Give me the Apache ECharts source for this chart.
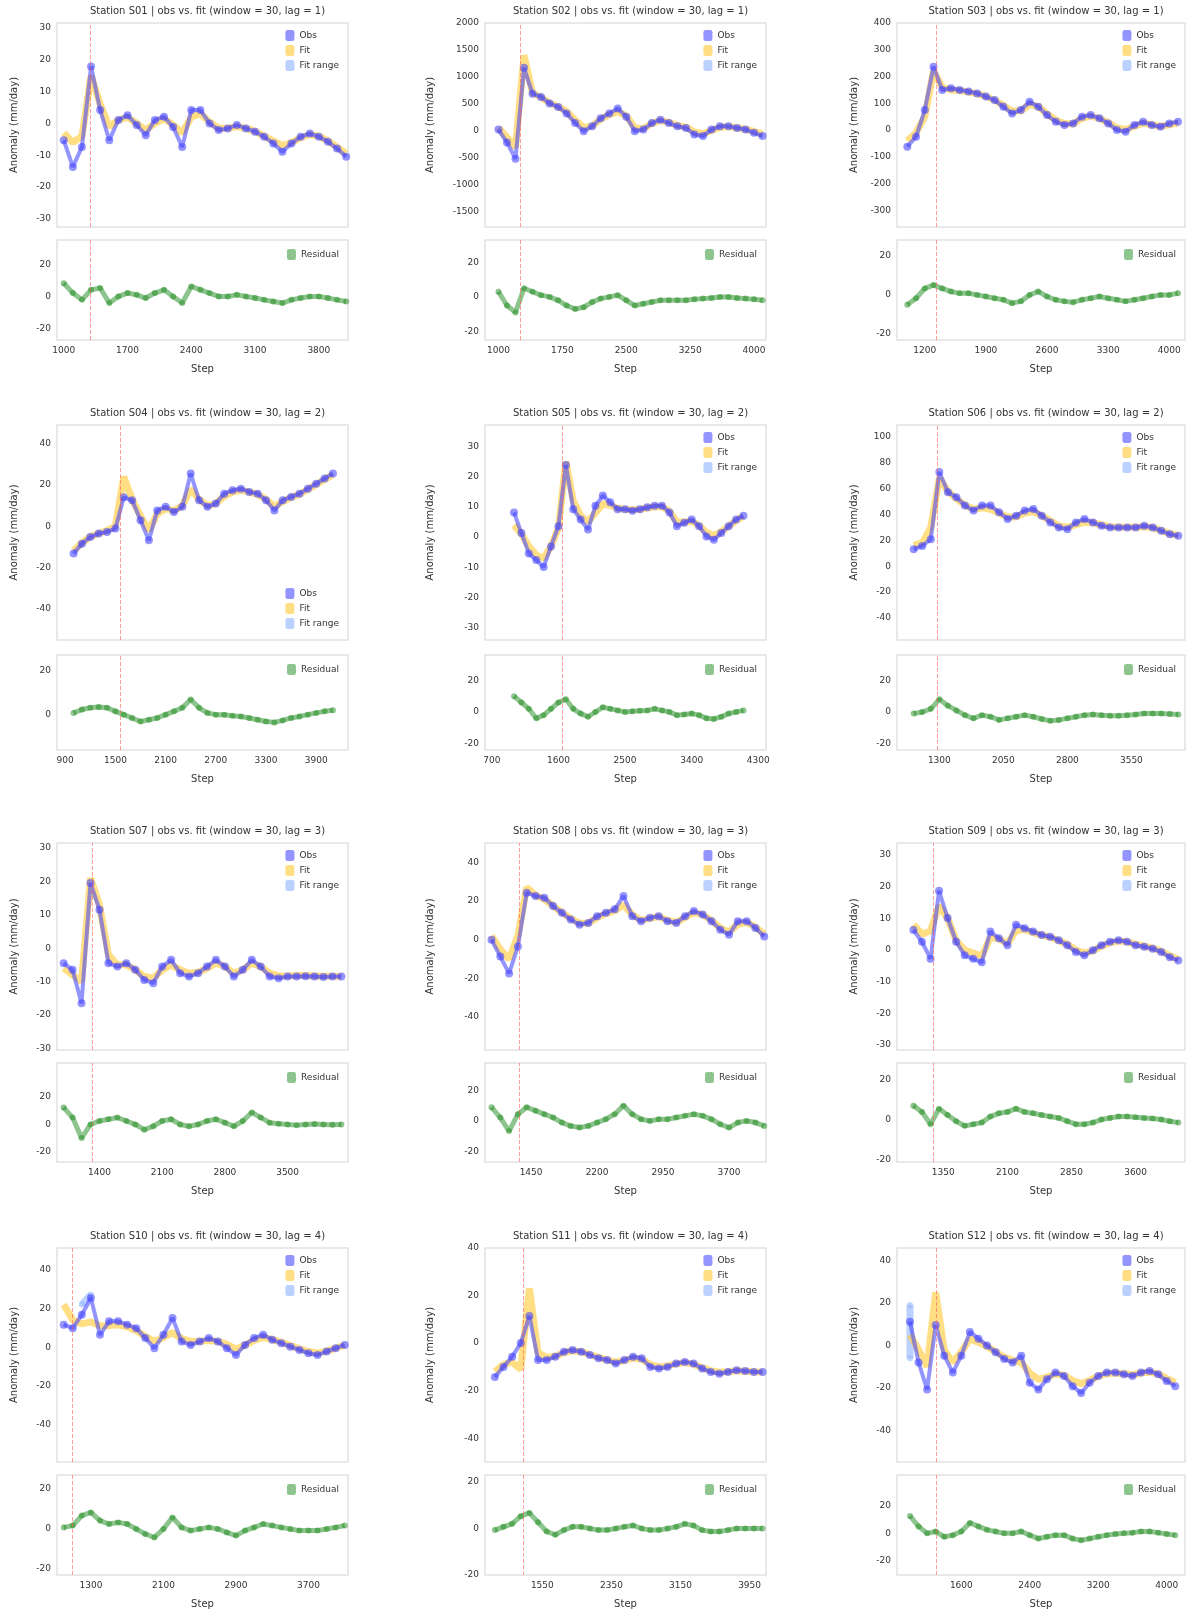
<!DOCTYPE html>
<html>
<head>
<meta charset="utf-8">
<script src="https://cdn.jsdelivr.net/npm/echarts@6/dist/echarts.min.js"></script>
<style>
html, body { margin: 0; padding: 0; background: #fff; }
#chart { width: 1200px; height: 1620px; }
</style>
</head>
<body>
<div id="chart"></div>
<script>
// shared x values (step number)
const steps = [1000, 1100, 1200, 1300, 1400, 1500, 1600, 1700, 1800, 1900, 2000, 2100, 2200, 2300, 2400, 2500,
  2600, 2700, 2800, 2900, 3000, 3100, 3200, 3300, 3400, 3500, 3600, 3700, 3800, 3900, 4000, 4100];

// observed / fitted / residual, one set per panel (reading order)
const obs1 = [-5.3, -13.7, -7.4, 17.9, 4.2, -5.3, 1.1, 2.6, -0.5, -3.7, 1.1, 2.1, -1.1, -7.4, 4.2, 4.2, 0, -2.1, -1.6, -0.5, -1.6, -2.6, -4.2, -6.3, -8.9, -6.3, -4.2, -3.2, -4.2, -5.8, -7.9, -10.5];
const fit1 = [-3, -6, -4, 15, 6, -1, 1, 2, 0, -2, 0, 1.5, -0.5, -3, 2, 3, 0.5, -1.5, -1.5, -1, -1.5, -2.5, -4, -5.5, -7, -6, -4.5, -3.5, -4, -5.5, -7.5, -9.5];
const res1 = [8.2, 2.1, -2.1, 4.1, 5.2, -4.1, 0, 2.1, 1, -1, 2.1, 4.1, 0, -4.1, 6.2, 4.1, 2.1, 0, 0, 1, 0, -1, -2.1, -3.1, -4.1, -2.1, -1, 0, 0, -1, -2.1, -3.1];

const obs2 = [25, -215, -515, 1170, 690, 630, 510, 445, 325, 145, -5, 85, 235, 325, 415, 265, -5, 25, 145, 205, 145, 85, 55, -65, -95, 25, 85, 85, 55, 25, -35, -95];
const fit2 = [60, -120, -300, 1400, 700, 620, 520, 450, 360, 200, 60, 90, 220, 300, 360, 280, 60, 40, 140, 190, 160, 100, 70, -20, -50, 10, 70, 80, 60, 30, -10, -60];
const res2 = [3, -5, -9, 5, 3, 1, 0, -2, -5, -7, -6, -3, -1, 0, 1, -2, -5, -4, -3, -2, -2, -2, -2, -1.4, -1, -0.6, 0, 0, -0.6, -1, -1.4, -2];

const obs3 = [-62, -25, 75, 237, 150, 156, 150, 144, 137, 125, 112, 87, 62, 75, 106, 87, 56, 31, 19, 25, 50, 56, 44, 25, 0, -6, 19, 31, 19, 12, 25, 31];
const fit3 = [-40, -10, 50, 220, 160, 150, 148, 142, 136, 126, 112, 92, 70, 72, 96, 88, 60, 38, 24, 24, 44, 52, 44, 28, 8, 2, 14, 26, 20, 14, 20, 26];
const res3 = [-5, -1.7, 3.3, 5, 3.3, 1.7, 0.8, 0.8, 0, -0.8, -1.7, -2.5, -4.2, -3.3, 0, 1.7, -0.8, -2.5, -3.3, -3.7, -2.5, -1.7, -0.8, -1.7, -2.5, -3.3, -2.5, -1.7, -0.8, 0, 0, 0.8];

const obs4 = [-13.2, -8.4, -5.2, -3.5, -2.7, -1.1, 14, 12.6, 2.9, -6.8, 7.7, 9.4, 6.9, 9.4, 25.5, 12.6, 9.4, 11, 15.8, 17.4, 18.2, 16.6, 15.8, 12.6, 7.7, 12.6, 14.2, 15.8, 18.2, 20.6, 23.1, 25.5];
const fit4 = [-12, -8, -5, -3.5, -2, 0, 24, 13, 5, -2, 6, 8.5, 7.5, 10, 18, 13, 10, 11, 14.5, 16.5, 17.5, 16.5, 15.5, 13, 9.5, 12, 14, 15.5, 17.8, 20.2, 22.6, 25];
const res4 = [0.8, 2.3, 3.1, 3.5, 3.1, 1.5, 0, -1.5, -3.1, -2.3, -1.5, 0, 1.5, 3.1, 6.9, 3.1, 0.8, 0, 0, -0.5, -0.8, -1.5, -2.3, -3.1, -3.5, -2.6, -1.5, -0.8, 0, 0.8, 1.5, 2];

const obs5 = [8.1, 1.3, -5.4, -7.6, -9.9, -3.1, 3.6, 23.8, 9.2, 5.8, 2.5, 10.3, 13.7, 11.5, 9.2, 9.2, 8.7, 9.2, 9.8, 10.3, 10.3, 8.1, 3.6, 4.7, 5.8, 3.6, 0.2, -0.9, 1.3, 3.6, 5.8, 7];
const fit5 = [4, 1, -3, -6, -7, -3, 3, 25, 12, 7, 5, 8, 11, 10.5, 9.5, 9.2, 9, 9.2, 9.6, 10, 10, 8.5, 5, 5, 5.2, 3.8, 1.5, 0.5, 1.8, 3.6, 5.5, 6.8];
const res5 = [10, 6, 2, -4, -2, 2, 6, 8, 2, -1, -3, 0, 3, 2, 1, 0, 0.4, 0.8, 1, 2, 1, 0, -2, -1.6, -1, -2, -4, -4.4, -3, -1, 0, 1];

const obs6 = [13, 15.6, 20.8, 72.7, 57.1, 53.2, 46.8, 42.9, 46.8, 46.8, 41.6, 36.4, 39, 42.9, 44.2, 39, 33.8, 29.9, 28.6, 33.8, 36.4, 33.8, 31.2, 29.9, 29.9, 29.9, 29.9, 31.2, 29.9, 27.3, 24.7, 23.4];
const fit6 = [16, 18, 30, 68, 58, 52, 47, 44, 45, 44, 41, 38, 38, 41, 42, 39, 35, 31, 30, 32, 34, 33.5, 32, 30.5, 30, 30, 30, 30.5, 29.8, 27.5, 25, 23.8];
const res6 = [-1, 0, 2, 8, 4, 1, -2, -4, -2, -3, -5, -4, -3, -2, -3, -4.4, -5.6, -5, -4, -3, -2, -1.6, -2, -2.4, -2.4, -2, -1.6, -1, -1, -1, -1.2, -1.6];

const obs7 = [-4.5, -6.5, -16.5, 19.5, 11.5, -4.5, -5.5, -4.5, -6.5, -9.5, -10.5, -5.5, -3.5, -7.5, -8.5, -7.5, -5.5, -3.5, -5.5, -8.5, -6.5, -3.5, -5.5, -8.5, -9, -8.5, -8.5, -8.4, -8.5, -8.6, -8.5, -8.5];
const fit7 = [-6, -8, -10, 21, 13, -2, -5, -5, -6.5, -8.5, -9, -6.5, -5, -6.5, -7.5, -7.2, -6, -4.5, -5.5, -7.5, -6.5, -4.5, -5.5, -7.5, -8.3, -8.3, -8.2, -8.2, -8.3, -8.4, -8.4, -8.5];
const res7 = [12.5, 5, -10, 0, 2.5, 3.8, 5, 2.5, 0, -3.8, -1.3, 2.5, 3.8, 0, -1.3, 0, 2.5, 3.8, 1.3, -1.3, 2.5, 8.8, 5, 1.3, 0.5, 0, -0.5, 0, 0.3, 0, -0.3, 0];

const obs8 = [0, -8.7, -17.4, -3.5, 24.3, 22.6, 21.7, 17.4, 13.9, 10.4, 7.8, 8.7, 12.2, 13.9, 15.7, 22.6, 12.2, 9.6, 11.3, 12.2, 9.6, 8.7, 12.2, 14.8, 13, 9.6, 5.2, 2.6, 9.6, 9.6, 6.1, 1.7];
const fit8 = [2, -5, -10, 2, 27, 23, 21, 17.5, 14, 11, 8.5, 8.5, 11.5, 13.5, 15, 18, 13, 10, 11, 12, 10, 9, 11.5, 14, 13, 10, 6, 4, 8, 9, 6.5, 3];
const res8 = [8.9, 2.2, -6.7, 4.4, 8.9, 6.7, 4.4, 2.2, -1.1, -3.3, -4.4, -3.3, -1.1, 1.1, 4.4, 10, 4.4, 1.1, 0, 1.1, 1.1, 2.2, 3.3, 4.4, 3.3, 1.1, -2.2, -4.4, -1.1, 0, -1.1, -3.3];

const obs9 = [6.3, 2.6, -2.8, 18.7, 10.1, 2.6, -1.7, -2.8, -3.9, 5.8, 3.7, 1.5, 8, 6.9, 5.8, 4.7, 4.2, 3.1, 1.5, -0.6, -1.7, -0.1, 1.5, 2.6, 3.1, 2.6, 1.5, 1, 0.4, -0.6, -2.3, -3.3];
const fit9 = [8, 5, 6, 14, 10, 3, 0, -1, -2, 4, 3.5, 2, 6, 6.5, 5.5, 4.8, 4, 3, 1.8, 0, -1, -0.3, 1.2, 2.3, 2.8, 2.6, 1.8, 1.2, 0.6, -0.4, -1.8, -3];
const res9 = [6.9, 3.8, -2.3, 5.4, 2.3, -0.8, -3.1, -2.3, -1.5, 1.5, 3.1, 3.8, 5.4, 3.8, 3.1, 2.3, 1.5, 0.8, -0.8, -2.3, -2.3, -1.5, 0, 0.8, 1.5, 1.5, 1.1, 0.8, 0.5, 0, -0.8, -1.5];

const obs10 = [11.6, 9.8, 16.7, 25.3, 6.4, 13.3, 13.3, 11.6, 9.8, 4.7, -0.5, 6.4, 15, 2.9, 1.2, 2.9, 4.7, 2.9, -0.5, -4, 1.2, 4.7, 6.4, 3.8, 2.1, 0.3, -1.4, -3.1, -4, -2.2, -0.5, 1.2];
const fit10 = [22, 14, 12, 13, 11, 11, 11.5, 10.5, 8.5, 5.5, 3, 5, 7.5, 4.5, 3, 3, 3.5, 3, 1.5, -1, 1, 3.5, 5, 4, 2.5, 0.8, -0.8, -2.2, -3, -2, -0.5, 1];
const res10 = [0.8, 1.7, 6.7, 8.3, 4.2, 2.5, 3.3, 2.5, 0, -2.5, -4.2, 0, 5.8, 0.8, -0.8, 0, 0.8, 0, -1.7, -3.3, -0.8, 0.8, 2.5, 1.7, 0.8, 0, -0.8, -0.8, -0.8, 0, 0.8, 1.7];

const obs11 = [-14.3, -10, -5.7, 0, 11.4, -7.1, -7.1, -5.7, -3.6, -2.9, -3.6, -5, -6.4, -7.1, -8.6, -7.1, -5.7, -6.4, -10, -10.7, -10, -8.6, -7.9, -8.6, -10.7, -12.1, -12.9, -12.1, -11.4, -11.7, -12.1, -12.1];
const fit11 = [-12, -9, -8, -11, 23, -4, -6, -5.5, -4, -3.2, -3.6, -4.8, -6, -7, -8, -7.3, -6.3, -6.8, -9, -10, -9.6, -8.7, -8.2, -8.8, -10.4, -11.6, -12.3, -12, -11.6, -11.8, -12, -12.2];
const res11 = [-0.7, 0.7, 2, 5.3, 6.7, 2.7, -1.3, -2.7, -0.7, 0.7, 0.7, 0, -0.7, -0.7, 0, 0.7, 1.3, 0, -0.7, -0.7, 0, 0.7, 2, 1.3, -0.7, -1.3, -1.3, -0.7, 0, 0, 0, 0];

const obs12 = [11.2, -8, -20.8, 9.6, -4.8, -12.8, -4.8, 6.4, 3.2, 0, -3.2, -6.4, -8, -4.8, -17.6, -20.8, -16, -12.8, -14.4, -19.2, -22.4, -17.6, -14.4, -12.8, -12.8, -13.6, -14.4, -12.8, -12, -13.6, -16.8, -19.2];
const fit12 = [5, -2, -10, 25, -2, -8, -3, 3, 1.5, -0.5, -3, -5.5, -7, -8, -13, -16, -15, -13.5, -14, -16.5, -18, -16.5, -14.5, -13.3, -13, -13.3, -13.8, -13, -12.6, -13.4, -15.5, -17.5];
const res12 = [12.5, 5, 0, 1.3, -2.5, -1.3, 1.3, 7.5, 5, 2.5, 1.3, 0, 0, 1.3, -1.3, -3.8, -2.5, -1.3, -1.3, -3.8, -5, -3.8, -2.5, -1.3, -0.5, 0, 0.5, 1.3, 1.3, 0.5, -0.5, -1.3];

// fit range: only a few points visible (index into steps, value)
const rangeIdx10 = [2, 3];
const rangeVal10 = [22, 27];
const rangeIdx12 = [0, 0];
const rangeVal12 = [19, -6];

const obsAll = [obs1, obs2, obs3, obs4, obs5, obs6, obs7, obs8, obs9, obs10, obs11, obs12];
const fitAll = [fit1, fit2, fit3, fit4, fit5, fit6, fit7, fit8, fit9, fit10, fit11, fit12];
const resAll = [res1, res2, res3, res4, res5, res6, res7, res8, res9, res10, res11, res12];
const rangeIdxAll = [[], [], [], [], [], [], [], [], [], rangeIdx10, [], rangeIdx12];
const rangeValAll = [[], [], [], [], [], [], [], [], [], rangeVal10, [], rangeVal12];

const titles = [
  "Station S01 | obs vs. fit (window = 30, lag = 1)",
  "Station S02 | obs vs. fit (window = 30, lag = 1)",
  "Station S03 | obs vs. fit (window = 30, lag = 1)",
  "Station S04 | obs vs. fit (window = 30, lag = 2)",
  "Station S05 | obs vs. fit (window = 30, lag = 2)",
  "Station S06 | obs vs. fit (window = 30, lag = 2)",
  "Station S07 | obs vs. fit (window = 30, lag = 3)",
  "Station S08 | obs vs. fit (window = 30, lag = 3)",
  "Station S09 | obs vs. fit (window = 30, lag = 3)",
  "Station S10 | obs vs. fit (window = 30, lag = 4)",
  "Station S11 | obs vs. fit (window = 30, lag = 4)",
  "Station S12 | obs vs. fit (window = 30, lag = 4)"
];

const breakX = [1290, 1260, 1330, 1560, 1656, 1276, 1318, 1312, 1234, 1092, 1326, 1306];
const xMins = [926, 842, 882, 802, 608, 804, 926, 926, 808, 926, 886, 848];
const xMaxs = [4120, 4140, 4180, 4280, 4404, 4178, 4174, 4120, 4178, 4136, 4140, 4214];
const xTicks = [
  [1000, 1700, 2400, 3100, 3800], [1000, 1750, 2500, 3250, 4000], [1200, 1900, 2600, 3300, 4000],
  [900, 1500, 2100, 2700, 3300, 3900], [700, 1600, 2500, 3400, 4300], [1300, 2050, 2800, 3550],
  [1400, 2100, 2800, 3500], [1450, 2200, 2950, 3700], [1350, 2100, 2850, 3600],
  [1300, 2100, 2900, 3700], [1550, 2350, 3150, 3950], [1600, 2400, 3200, 4000]
];
const yMins = [-32.6, -1780, -362, -55, -34, -57, -30.5, -57, -31.6, -59, -50, -55];
const yMaxs = [31.6, 2000, 400, 49, 37, 109, 31.5, 50, 33.8, 51, 40, 46];
const yTicks = [
  [-30, -20, -10, 0, 10, 20, 30], [-1500, -1000, -500, 0, 500, 1000, 1500, 2000], [-300, -200, -100, 0, 100, 200, 300, 400],
  [-40, -20, 0, 20, 40], [-30, -20, -10, 0, 10, 20, 30], [-40, -20, 0, 20, 40, 60, 80, 100],
  [-30, -20, -10, 0, 10, 20, 30], [-40, -20, 0, 20, 40], [-30, -20, -10, 0, 10, 20, 30],
  [-40, -20, 0, 20, 40], [-40, -20, 0, 20, 40], [-40, -20, 0, 20, 40]
];
const resMins = [-27, -25, -23, -16, -24, -24, -27.5, -27, -21, -23, -20, -30];
const resMaxs = [35, 33, 28, 27, 36, 36, 45, 38, 28, 27, 23, 42];
const resTicks = [
  [-20, 0, 20], [-20, 0, 20], [-20, 0, 20], [0, 20], [-20, 0, 20], [-20, 0, 20],
  [-20, 0, 20], [-20, 0, 20], [-20, 0, 20], [-20, 0, 20], [-20, 0, 20], [-20, 0, 20]
];

// panel frame positions
const colLeft = [57, 485, 897];
const colRight = [348, 766, 1185];
const mainTop = [23, 425, 843, 1248];
const mainBottom = [227, 640, 1050, 1462];
const lowTop = [240, 655, 1063, 1475];
const lowBottom = [340, 750, 1162, 1575];

const BLUE = "rgba(60,60,255,0.55)";
const YELLOW = "rgba(255,200,50,0.6)";
const LIGHTBLUE = "rgba(150,185,255,0.65)";
const GREEN = "rgba(30,140,30,0.5)";
const RED = "rgba(255,90,90,0.6)";

let plain = (v) => String(v);

let chart = echarts.init(document.getElementById("chart"));
let grids = [], xAxes = [], yAxes = [], series = [], legends = [], titleList = [];

for (let i = 0; i < 12; i++) {
  let r = Math.floor(i / 3), c = i % 3;
  let left = colLeft[c], width = colRight[c] - colLeft[c];
  grids.push({ left: left, width: width, top: mainTop[r], height: mainBottom[r] - mainTop[r],
    show: true, borderColor: "#e2e2e2", borderWidth: 1.5 });
  grids.push({ left: left, width: width, top: lowTop[r], height: lowBottom[r] - lowTop[r],
    show: true, borderColor: "#e2e2e2", borderWidth: 1.5 });

  titleList.push({
    text: titles[i], left: left + width / 2, top: mainTop[r] - 22, textAlign: "center",
    textStyle: { fontSize: 10, fontWeight: "normal", color: "#333", fontFamily: "DejaVu Sans" },
  });

  xAxes.push({
    type: "value", gridIndex: 2 * i, min: xMins[i], max: xMaxs[i],
    axisLabel: { show: false }, axisTick: { show: false }, axisLine: { show: false }, splitLine: { show: false },
  });
  xAxes.push({
    type: "value", gridIndex: 2 * i + 1, min: xMins[i], max: xMaxs[i],
    name: "Step", nameLocation: "middle", nameGap: 24,
    nameTextStyle: { fontSize: 10, color: "#333" },
    axisLabel: { customValues: xTicks[i], formatter: plain, fontSize: 9, color: "#333", margin: 6 },
    axisTick: { show: false }, axisLine: { show: false }, splitLine: { show: false },
  });

  yAxes.push({
    type: "value", gridIndex: 2 * i, min: yMins[i], max: yMaxs[i],
    name: "Anomaly (mm/day)", nameLocation: "middle", nameGap: c === 1 ? 50 : 38,
    nameTextStyle: { fontSize: 10, color: "#333" },
    axisLabel: { customValues: yTicks[i], formatter: plain, fontSize: 9, color: "#333", margin: 6 },
    axisTick: { show: false }, axisLine: { show: false }, splitLine: { show: false },
  });
  yAxes.push({
    type: "value", gridIndex: 2 * i + 1, min: resMins[i], max: resMaxs[i],
    axisLabel: { customValues: resTicks[i], formatter: plain, fontSize: 9, color: "#333", margin: 6 },
    axisTick: { show: false }, axisLine: { show: false }, splitLine: { show: false },
  });

  let breakLine = {
    silent: true, symbol: "none", label: { show: false },
    lineStyle: { color: RED, type: "dashed", width: 1 },
    data: [{ xAxis: breakX[i] }],
  };

  series.push({
    name: "Fit", type: "line", xAxisIndex: 2 * i, yAxisIndex: 2 * i,
    data: steps.map((x, k) => [x, fitAll[i][k]]),
    showSymbol: false, lineStyle: { color: YELLOW, width: 7 }, itemStyle: { color: YELLOW }, z: 2,
  });
  series.push({
    name: "Obs", type: "line", xAxisIndex: 2 * i, yAxisIndex: 2 * i,
    data: steps.map((x, k) => [x, obsAll[i][k]]),
    symbol: "circle", symbolSize: 8, lineStyle: { color: BLUE, width: 4 },
    itemStyle: { color: BLUE }, z: 3, markLine: breakLine,
  });
  series.push({
    name: "Fit range", type: "line", xAxisIndex: 2 * i, yAxisIndex: 2 * i,
    data: rangeIdxAll[i].map((k, j) => [steps[k], rangeValAll[i][j]]),
    symbol: "circle", symbolSize: 6, lineStyle: { color: LIGHTBLUE, width: 7 },
    itemStyle: { color: LIGHTBLUE }, z: 1,
  });
  series.push({
    name: "Residual", type: "line", xAxisIndex: 2 * i + 1, yAxisIndex: 2 * i + 1,
    data: steps.map((x, k) => [x, resAll[i][k]]),
    symbol: "circle", symbolSize: 6, lineStyle: { color: GREEN, width: 5 },
    itemStyle: { color: GREEN }, markLine: breakLine,
  });

  legends.push({
    data: ["Obs", "Fit", "Fit range"], orient: "vertical",
    right: 1200 - colRight[c] + 4, top: i === 3 ? mainTop[r] + 158 : mainTop[r] + 2,
    icon: "roundRect", itemWidth: 9, itemHeight: 11, itemGap: 4,
    textStyle: { fontSize: 9, color: "#333" },
  });
  legends.push({
    data: ["Residual"], right: 1200 - colRight[c] + 4, top: lowTop[r] + 4,
    icon: "roundRect", itemWidth: 9, itemHeight: 11,
    textStyle: { fontSize: 9, color: "#333" },
  });
}

let option = {
  backgroundColor: "#fff",
  animation: false,
  textStyle: { fontFamily: "DejaVu Sans" },
  title: titleList,
  legend: legends,
  grid: grids,
  xAxis: xAxes,
  yAxis: yAxes,
  series: series,
};
chart.setOption(option);
</script>
</body>
</html>
